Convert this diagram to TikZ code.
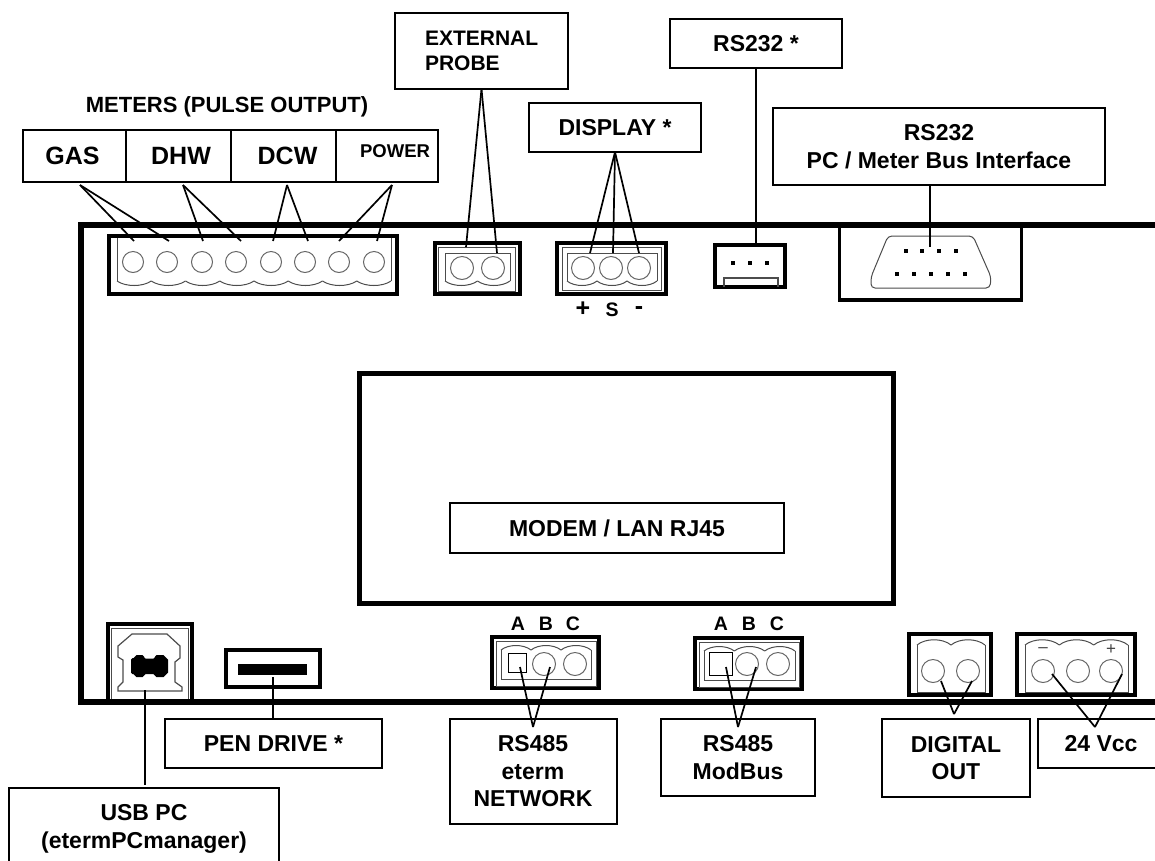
\documentclass[tikz,border=0pt]{standalone}
\usepackage{fontspec}
\setmainfont{Liberation Sans}
\usetikzlibrary{positioning}
\tikzset{
    tag/.style={rectangle, draw=black, line width=2pt, outer sep=0pt, inner sep=0pt, align=center, font=\bfseries\fontsize{23}{27.5}\selectfont},
    bigtag/.style={tag, font=\bfseries\fontsize{25}{28}\selectfont},
    caption/.style={inner sep=0pt, font=\bfseries\fontsize{22}{26}\selectfont},
    pinmark/.style={inner sep=0pt, font=\bfseries\fontsize{19.5}{22}\selectfont},
    polemark/.style={inner sep=0pt, font=\bfseries\fontsize{25}{26}\selectfont},
    signmark/.style={inner sep=0pt, font=\fontsize{17}{20}\selectfont, text=black!75},
    frame/.style={line width=4pt, draw=black},
    shell/.style={line width=1pt, draw=black!70},
    pinhole/.style={circle, draw=black!60, line width=1pt, minimum size=23pt, inner sep=0pt, outer sep=0pt},
    contact/.style={rectangle, fill=black, minimum size=4.5pt, inner sep=0pt},
    wire/.style={line width=1.7pt, draw=black}
}
% one arc per pin along the edge of a plug body: x start, pitch, count, y, bulge
\newcommand{\pinwave}[5]{%
    \foreach \n in {1,...,#3}
        \draw[shell] ({#1+(\n-1)*#2},#4) .. controls ({#1+(\n-0.75)*#2},{#4+#5}) and ({#1+(\n-0.25)*#2},{#4+#5}) .. ({#1+\n*#2},#4);
}
\begin{document}
\begin{tikzpicture}[x=1pt, y=-1pt]
    \useasboundingbox (0,0) rectangle (1155,860);
    \clip (0,0) rectangle (1155,860);

    % board outline, open on the right
    \draw[line width=5.5pt] (1170,225) -- (81,225) -- (81,702) -- (1170,702);

    % labels above the board
    \node (meters) [caption] at (227,107) {METERS (PULSE OUTPUT)};
    \node (gas) [bigtag, minimum width=103pt, minimum height=52pt] at (74.5,156) {\hspace*{-4pt}GAS};
    \node (dhw) [bigtag, minimum width=105pt, minimum height=52pt, right=0pt of gas] {\hspace*{5pt}DHW};
    \node (dcw) [bigtag, minimum width=105pt, minimum height=52pt, right=0pt of dhw] {\hspace*{8pt}DCW};
    \node (power) [tag, minimum width=102pt, minimum height=52pt, right=0pt of dcw] {};
    \node (powertext) [inner sep=0pt, font=\bfseries\fontsize{18.5}{22}\selectfont] at (395,151) {POWER};
    \node (probe) [tag, text width=113pt, inner xsep=30pt, minimum height=76pt, align=left, font=\bfseries\fontsize{21}{24.5}\selectfont] at (481.5,51) {EXTERNAL\\PROBE};
    \node (display) [tag, minimum width=172pt, minimum height=49pt] at (615,127.5) {DISPLAY *};
    \node (rsplain) [tag, minimum width=172pt, minimum height=49pt] at (756,43.5) {RS232 *};
    \node (rspc) [tag, minimum width=332pt, minimum height=77pt] at (939,146.5) {RS232\\PC / Meter Bus Interface};

    % modem
    \draw[line width=5pt] (359,373) rectangle (893,603);
    \node (modem) [tag, line width=1.5pt, minimum width=334pt, minimum height=50pt] at (617,528) {MODEM / LAN RJ45};

    % labels below the board
    \node (usb) [tag, minimum width=270pt, minimum height=82pt] at (144,829) {USB PC\\(etermPCmanager)};
    \node (pen) [tag, minimum width=217pt, minimum height=49pt] at (273.5,743.5) {PEN DRIVE *};
    \node (eterm) [tag, minimum width=167pt, minimum height=105pt] at (533,771.5) {RS485\\eterm\\NETWORK};
    \node (modbus) [tag, minimum width=154pt, minimum height=77pt] at (738,757.5) {RS485\\ModBus};
    \node (digital) [tag, minimum width=148pt, minimum height=78pt] at (956,758) {DIGITAL\\OUT};
    \node (vcc) [tag, minimum width=126pt, minimum height=49pt] at (1101,743.5) {24 Vcc};

    % meter plug
    \draw[frame] (109,236) rectangle (397,294);
    \draw[shell] (117,238) -- (117,281);
    \draw[shell] (391,238) -- (391,281);
    \pinwave{117}{34.25}{8}{281}{6}
    \foreach \x [count=\i] in {133,167,202,236,271,305,339,374}
        \node (meter\i) [pinhole, minimum size=21pt] at (\x,262) {};

    % probe plug
    \draw[frame] (435,243) rectangle (520,294);
    \draw[shell] (438,247) rectangle (515,291);
    \draw[shell] (445,281) -- (445,253) -- (510,253) -- (510,281);
    \pinwave{445}{32.5}{2}{281}{6}
    \foreach \x [count=\i] in {462,493}
        \node (probe\i) [pinhole] at (\x,268) {};

    % display plug
    \draw[frame] (557,243) rectangle (666,294);
    \draw[shell] (562,247) rectangle (661,290);
    \draw[shell] (567,281) -- (567,253) -- (657,253) -- (657,281);
    \pinwave{567}{30}{3}{281}{6}
    \foreach \x [count=\i] in {583,611,639}
        \node (display\i) [pinhole] at (\x,268) {};
    \node (plus) [polemark] at (583,309) {+};
    \node (sense) [pinmark] at (612,310) {S};
    \node (minus) [polemark] at (639,311) {-};

    % small RS232 socket
    \draw[frame] (715,245) rectangle (785,287);
    \draw[shell, line width=1.2pt] (724,287) -- (724,278) -- (778,278) -- (778,287);
    \foreach \x [count=\i] in {733,750,767}
        \node (socket\i) [contact] at (\x,263) {};

    % sub-D connector
    \draw[line width=3.2pt] (839.5,225) -- (839.5,300) -- (1021.5,300) -- (1021.5,225);
    \draw[shell, rounded corners=4pt] (871,277) -- (871,288) -- (990,288) -- (991,277) -- (973,236) -- (888,236) -- cycle;
    \foreach \x [count=\i] in {906,922,939,956}
        \node (subtop\i) [contact] at (\x,251) {};
    \foreach \x [count=\i] in {897,914,931,948,965}
        \node (subbot\i) [contact] at (\x,274) {};

    % USB socket
    \draw[frame] (108,702) -- (108,624) -- (192,624) -- (192,702);
    \draw[shell] (111,699) -- (111,628) -- (188,628) -- (188,699);
    \draw[shell, line width=1.2pt] (132,634) -- (167,634) -- (180,646) -- (180,658) -- (175,662) -- (175,682) -- (182,687) -- (182,691) -- (118,691) -- (118,687) -- (123,682) -- (123,660) -- (118,657) -- (118,646) -- cycle;
    \fill[rounded corners=1.5pt] (131,658) -- (135,658) -- (135,655) -- (144,655) -- (144,658.5) -- (155,658.5) -- (155,655) -- (165,655) -- (165,658) -- (168,658) -- (168,674) -- (165,674) -- (165,677) -- (155,677) -- (155,674) -- (144,674) -- (144,677) -- (135,677) -- (135,674) -- (131,674) -- cycle;
    \coordinate (usbpin) at (145,690);

    % pen drive socket
    \draw[frame] (226,650) rectangle (320,687);
    \fill (238,664) rectangle (307,675);
    \coordinate (penpin) at (273,677);

    % eterm plug
    \draw[frame] (492,637) rectangle (599,688);
    \draw[shell] (496,641) rectangle (596,686);
    \draw[shell] (501,650) -- (501,679) -- (591,679) -- (591,650);
    \pinwave{501}{30}{3}{650}{-6}
    \draw[shell, draw=black] (508,653) rectangle (526,672);
    \node (etermB) [pinhole] at (544,664) {};
    \node (etermC) [pinhole] at (575,664) {};
    \node (etermmarkA) [pinmark] at (518,624) {A};
    \node (etermmarkB) [pinmark] at (546,624) {B};
    \node (etermmarkC) [pinmark] at (573,624) {C};

    % modbus plug
    \draw[frame] (695,638) rectangle (802,689);
    \draw[shell] (699,642) rectangle (799,687);
    \draw[shell] (704,651) -- (704,680) -- (795,680) -- (795,651);
    \pinwave{704}{30.33}{3}{651}{-6}
    \draw[shell, draw=black] (709,652) rectangle (732,675);
    \node (modbusB) [pinhole] at (747,664) {};
    \node (modbusC) [pinhole] at (778,664) {};
    \node (modbusmarkA) [pinmark] at (721,624) {A};
    \node (modbusmarkB) [pinmark] at (749,624) {B};
    \node (modbusmarkC) [pinmark] at (777,624) {C};

    % digital out plug
    \draw[frame] (909,634) rectangle (991,695);
    \draw[shell] (917,645) -- (917,692) -- (985,692) -- (985,645);
    \pinwave{917}{34}{2}{645}{-7}
    \foreach \x [count=\i] in {933,968}
        \node (digital\i) [pinhole] at (\x,671) {};

    % supply plug
    \draw[frame] (1017,634) rectangle (1135,695);
    \draw[shell] (1025,645) -- (1025,692) -- (1128,692) -- (1128,645);
    \pinwave{1025}{34.33}{3}{645}{-7}
    \foreach \x [count=\i] in {1043,1078,1111}
        \node (supply\i) [pinhole] at (\x,671) {};
    \node (supplyminus) [signmark] at (1043,650) {–};
    \node (supplyplus) [signmark] at (1111,650) {+};

    % free ends of the wires
    \coordinate (gasapex) at (80,185);
    \coordinate (dhwapex) at (183,185);
    \coordinate (dcwapex) at (287,185);
    \coordinate (powerapex) at (392,185);
    \coordinate (etermapex) at (533,727);
    \coordinate (modbusapex) at (738,727);
    \coordinate (digitalapex) at (954,714);
    \coordinate (vccapex) at (1095,727);

    \draw[wire] (gasapex) -- (134,241);
    \draw[wire] (gasapex) -- (169,241);
    \draw[wire] (dhwapex) -- (203,241);
    \draw[wire] (dhwapex) -- (241,241);
    \draw[wire] (dcwapex) -- (273,241);
    \draw[wire] (dcwapex) -- (308,241);
    \draw[wire] (powerapex) -- (339,241);
    \draw[wire] (powerapex) -- (377,241);
    \draw[wire] (probe.south) -- (466,247);
    \draw[wire] (probe.south) -- (497,253);
    \draw[wire] (display.south) -- (590,253);
    \draw[wire] (display.south) -- (613,253);
    \draw[wire] (display.south) -- (639,253);
    \draw[wire] (rsplain.south) -- (756,247);
    \draw[wire] (rspc.south -| 930,0) -- (930,247);
    \draw[wire] (usbpin) -- (145,785);
    \draw[wire] (penpin) -- (pen.north -| penpin);
    \draw[wire] (etermapex) -- (520,667);
    \draw[wire] (etermapex) -- (550,667);
    \draw[wire] (modbusapex) -- (726,667);
    \draw[wire] (modbusapex) -- (756,667);
    \draw[wire] (digitalapex) -- (941,681);
    \draw[wire] (digitalapex) -- (972,681);
    \draw[wire] (vccapex) -- (1052,674);
    \draw[wire] (vccapex) -- (1122,674);
\end{tikzpicture}
\end{document}
